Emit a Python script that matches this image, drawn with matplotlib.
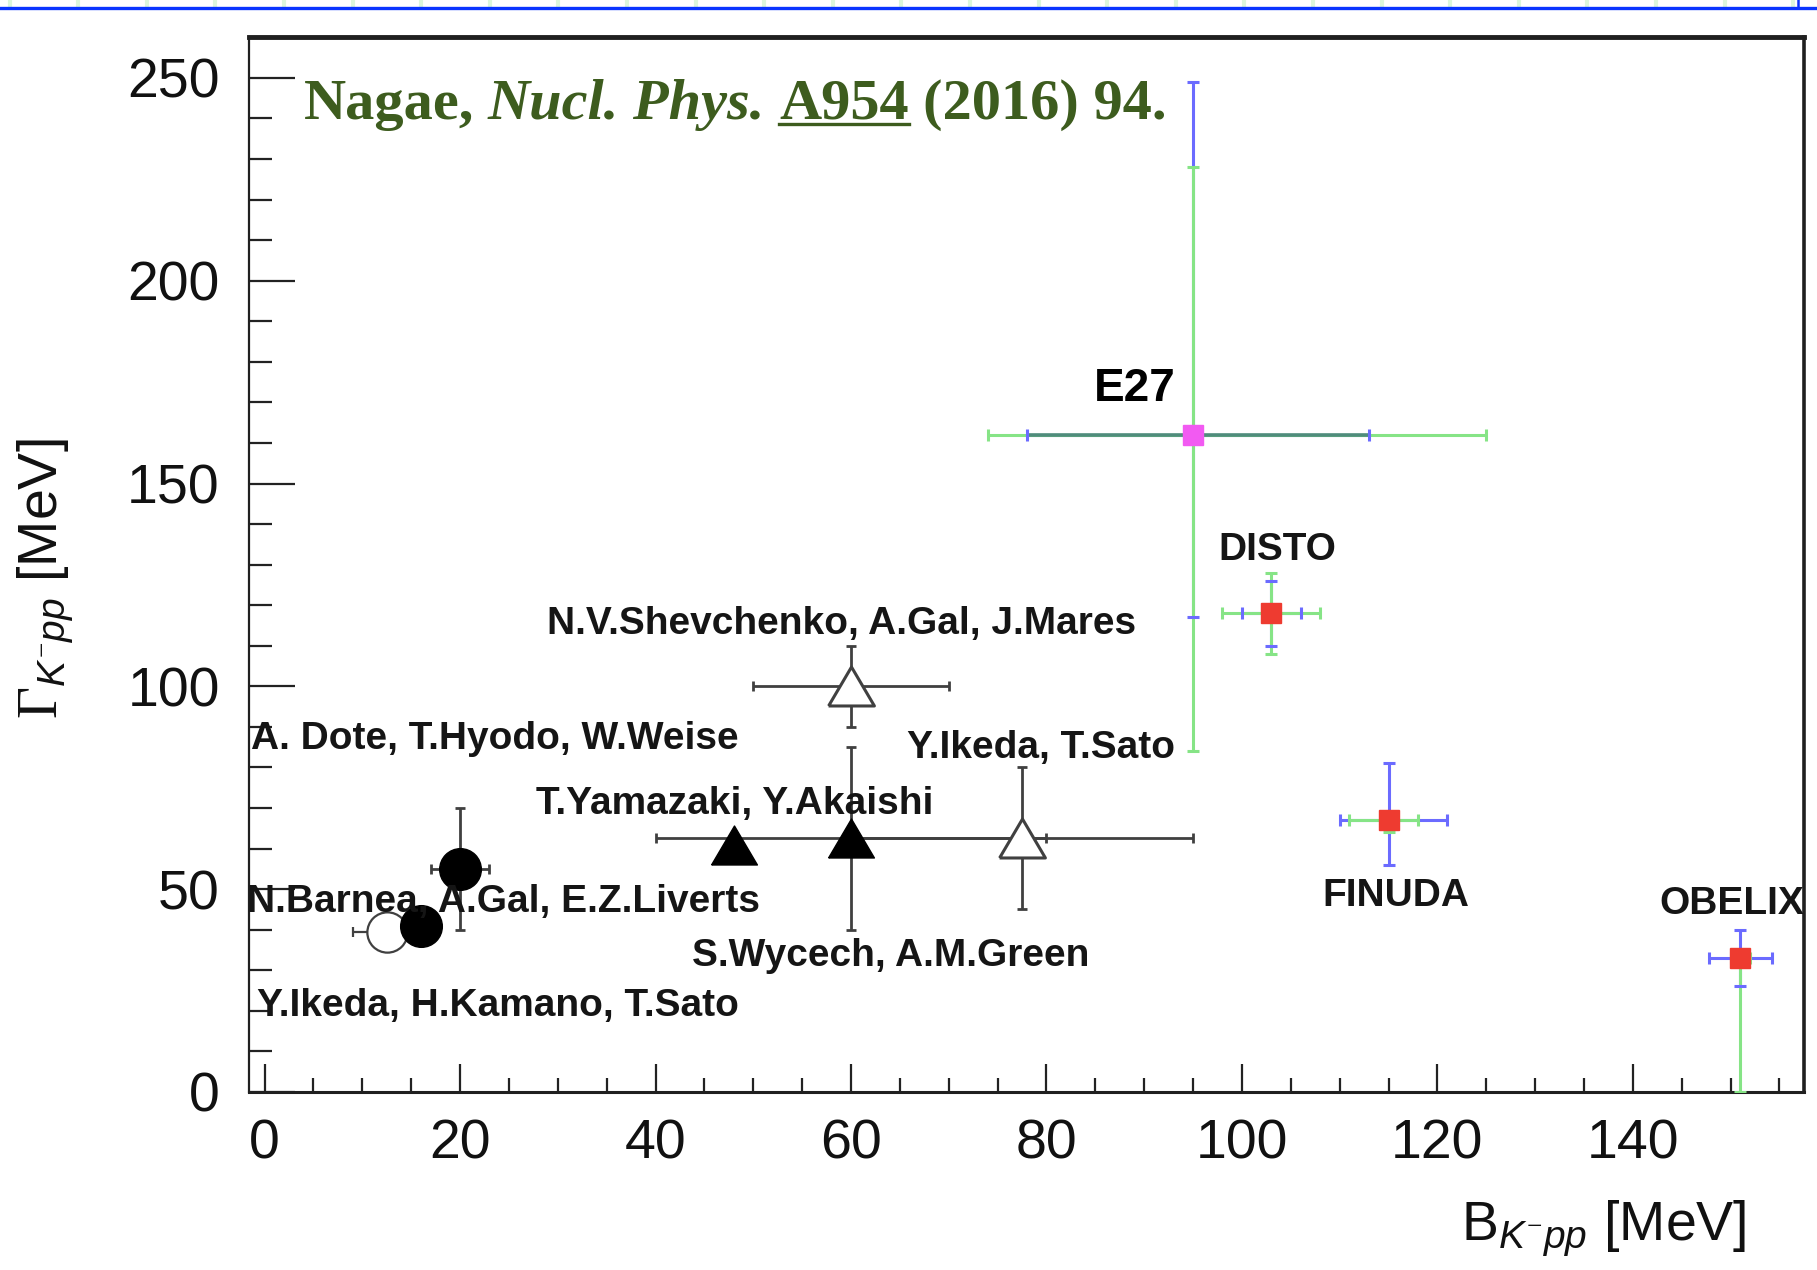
import matplotlib
matplotlib.use("Agg")
import matplotlib.pyplot as plt
from matplotlib.lines import Line2D
import numpy as np

plt.rcParams['font.family'] = ['Liberation Sans', 'DejaVu Sans']
plt.rcParams['mathtext.fontset'] = 'custom'
plt.rcParams['mathtext.rm'] = 'Liberation Serif'
plt.rcParams['mathtext.it'] = 'Liberation Sans:italic'

# --- theory predictions (B, Gamma in MeV) ---
fc_B = [16, 20]          # filled circles
fc_G = [41, 55]
fc_Berr = [0, 3]
fc_Gerr = [0, 15]

oc_B = [12.5]            # open circle
oc_G = [39.5]
oc_Berr = [3.5]

ft_B = [48, 60]          # filled triangles
ft_G = [61, 62.5]
ft_Berr = [0, 20]
ft_Gerr = [0, 22.5]

ot_B = [60, 77.5]        # open triangles
ot_G = [100, 62.5]
ot_Berr = [10, 17.5]
ot_Gerr = [10, 17.5]

theory_names = ["N.V.Shevchenko, A.Gal, J.Mares", "A. Dote, T.Hyodo, W.Weise",
                "Y.Ikeda, T.Sato", "T.Yamazaki, Y.Akaishi",
                "N.Barnea, A.Gal, E.Z.Liverts", "S.Wycech, A.M.Green",
                "Y.Ikeda, H.Kamano, T.Sato"]

# --- experiments ---
exp_names = ["E27", "DISTO", "FINUDA", "OBELIX"]
exp_B = [95, 103, 115, 151]
exp_G = [162, 118, 67, 33]
B_stat_lo = [17, 3, 5, 3.2]
B_stat_hi = [18, 3, 6, 3.2]
B_syst_lo = [21, 5, 4, 1]
B_syst_hi = [30, 5, 3, 1]
G_stat_lo = [45, 8, 11, 7]
G_stat_hi = [87, 8, 14, 7]
G_syst_lo = [78, 10, 3, 33]
G_syst_hi = [66, 10, 2, 0]

xticks = [0, 20, 40, 60, 80, 100, 120, 140]
yticks = [0, 50, 100, 150, 200, 250]

blue = '#6b6bff'
green = '#86e486'
teal = '#4f8c7c'
grey = '#404040'

fig = plt.figure(figsize=(18.17, 12.70), dpi=100)
ax = fig.add_axes([0.137, 0.1402, 0.8558, 0.8307])

# theory error bars
for B, G, xe, ye in [(fc_B, fc_G, fc_Berr, fc_Gerr),
                     (ft_B, ft_G, ft_Berr, ft_Gerr),
                     (ot_B, ot_G, ot_Berr, ot_Gerr)]:
    ax.errorbar(B, G, xerr=xe, yerr=ye, fmt='none', ecolor=grey,
                elinewidth=2.0, capsize=3.6, capthick=2.0, zorder=2)
ax.errorbar(oc_B, oc_G, xerr=oc_Berr, fmt='none', ecolor=grey,
            elinewidth=1.6, capsize=3.6, capthick=1.6, zorder=2)

tri = [(-1, -0.85), (1, -0.85), (0, 0.85), (-1, -0.85)]
ax.plot(oc_B, oc_G, 'o', ms=29, mfc='white', mec=grey, mew=1.6, zorder=3)
ax.plot(fc_B, fc_G, 'o', ms=30, color='black', zorder=4)
ax.plot(ft_B, ft_G, marker=tri, ls='none', ms=33, color='black', zorder=4)
ax.plot(ot_B, ot_G, marker=tri, ls='none', ms=33, mfc='white', mec=grey,
        mew=2.2, zorder=4)

# experimental points: stat (blue) under syst (green), caps on top
stat = ax.errorbar(exp_B, exp_G, xerr=[B_stat_lo, B_stat_hi],
                   yerr=[G_stat_lo, G_stat_hi], fmt='none', ecolor=blue,
                   elinewidth=2.2, capsize=4.5, capthick=2.2, zorder=2)
syst = ax.errorbar(exp_B, exp_G, xerr=[B_syst_lo, B_syst_hi],
                   yerr=[G_syst_lo, G_syst_hi], fmt='none', ecolor=green,
                   elinewidth=2.2, capsize=4.5, capthick=2.2, zorder=3)
ax.hlines(exp_G[0], exp_B[0] - B_stat_lo[0], exp_B[0] + B_stat_hi[0],
          color=teal, lw=2.6, zorder=3.5)
for cap in stat[1]:
    cap.set_zorder(5)
for cap in syst[1]:
    cap.set_zorder(4.5)
ax.plot(exp_B[:1], exp_G[:1], 's', ms=15, color='#f25af2', zorder=6)
ax.plot(exp_B[1:], exp_G[1:], 's', ms=15, color='#ee3b30', zorder=6)

# text labels
lab = dict(fontsize=28, fontweight='bold', color='#151515', zorder=7)
ax.text(59.0, 115.4, theory_names[0], ha='center', va='center', **lab)
ax.text(-1.4, 87.1, theory_names[1], ha='left', va='center', **lab)
ax.text(79.4, 84.9, theory_names[2], ha='center', va='center', **lab)
ax.text(48.1, 71.1, theory_names[3], ha='center', va='center', **lab)
ax.text(-1.8, 46.9, theory_names[4], ha='left', va='center', **lab)
ax.text(64.1, 33.4, theory_names[5], ha='center', va='center', **lab)
ax.text(-0.8, 21.1, theory_names[6], ha='left', va='center', **lab)
ax.text(89.0, 173.4, exp_names[0], ha='center', va='center', fontsize=33,
        fontweight='bold', color='black', zorder=7)
ax.text(103.6, 133.6, exp_names[1], ha='center', va='center', **lab)
ax.text(115.7, 48.3, exp_names[2], ha='center', va='center', **lab)
ax.text(150.1, 46.3, exp_names[3], ha='center', va='center', **lab)

# axes
ax.set_xlim(-1.6, 157.5)
ax.set_ylim(0, 260.1)
ax.set_xticks(xticks)
ax.set_yticks(yticks)
ax.set_xticks(np.arange(0, 157, 5), minor=True)
ax.set_yticks(np.arange(0, 261, 10), minor=True)
ax.tick_params(axis='both', which='both', direction='in', top=False,
               right=False, colors='#222222', width=1.6, labelsize=40)
ax.tick_params(axis='x', which='major', length=20, pad=19)
ax.tick_params(axis='x', which='minor', length=10)
ax.tick_params(axis='y', which='major', length=33, pad=21)
ax.tick_params(axis='y', which='minor', length=16.6)
for t in ax.get_xticklabels() + ax.get_yticklabels():
    t.set_color('#111111')

ax.spines['top'].set_linewidth(3.5)
ax.spines['right'].set_linewidth(2.6)
ax.spines['left'].set_linewidth(1.6)
ax.spines['bottom'].set_linewidth(2.2)
for s in ax.spines.values():
    s.set_color('#202020')

ax.set_ylabel(r'$\Gamma_{K^{-}pp}$ [MeV]', fontsize=40, color='#111111',
              va='center')
ax.yaxis.set_label_coords(-0.1305, 0.486)
ax.set_xlabel(r'B$_{K^{-}pp}$ [MeV]', fontsize=40, color='#111111',
              ha='right', va='center')
ax.xaxis.set_label_coords(0.963, -0.130)

# reference line at the top of the axes
ref = dict(fontsize=42, fontweight='bold', color='#3d5c1e',
           family='Liberation Serif', va='bottom', ha='left', zorder=8)
t1 = ax.text(0.0351, 0.911, 'Nagae,', transform=ax.transAxes, **ref)
t2 = ax.annotate('Nucl. Phys.', xy=(1, 0), xycoords=t1, xytext=(10, 0),
                 textcoords='offset points', style='italic', **ref)
t3 = ax.annotate('A954', xy=(1, 0), xycoords=t2, xytext=(10, 0),
                 textcoords='offset points', **ref)
t4 = ax.annotate('(2016) 94.', xy=(1, 0), xycoords=t3, xytext=(10, 0),
                 textcoords='offset points', **ref)

fig.canvas.draw()
bb = t3.get_window_extent()
uy = bb.y0 + 0.13 * bb.height
fig.add_artist(Line2D([bb.x0, bb.x1], [uy, uy], transform=None,
                      color='#3d5c1e', lw=2.4))

# strip along the top edge
H = 1270.0
for gx in np.arange(9.6, 1817, 68.6):
    fig.add_artist(Line2D([gx / 1817, gx / 1817], [1.0, (H - 5) / H],
                          transform=fig.transFigure, color='#dcf6dc', lw=3))
fig.add_artist(Line2D([0, 1], [(H - 8) / H, (H - 8) / H],
                      transform=fig.transFigure, color='#0a34ff', lw=2.4))
fig.add_artist(Line2D([1798 / 1817, 1798 / 1817], [1.0, (H - 8) / H],
                      transform=fig.transFigure, color='#0a34ff', lw=1.8))

fig.savefig('out.png', dpi=100)
